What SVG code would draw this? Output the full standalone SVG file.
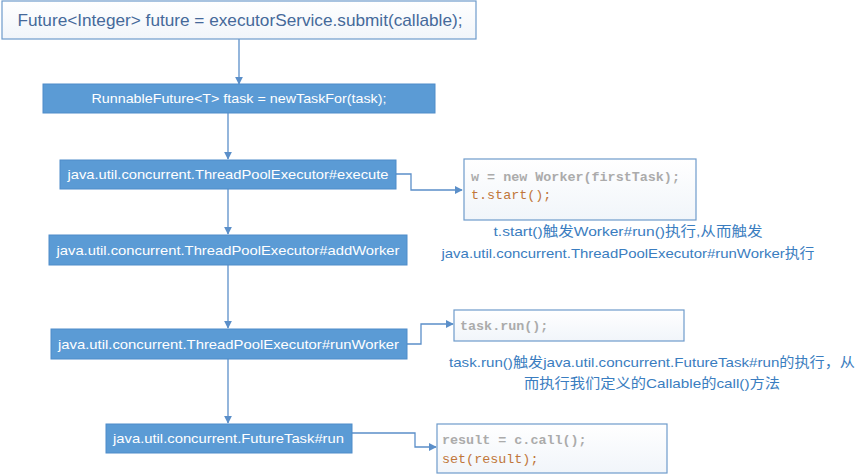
<svg xmlns="http://www.w3.org/2000/svg" width="865" height="474" viewBox="0 0 865 474">
<defs>
<linearGradient id="lg" x1="0" y1="0" x2="0" y2="1"><stop offset="0" stop-color="#FFFFFF"/><stop offset="1" stop-color="#F1F5FA"/></linearGradient>
<marker id="ah" viewBox="0 0 10 10" refX="9" refY="5" markerWidth="8" markerHeight="8" markerUnits="userSpaceOnUse" orient="auto"><path d="M0,0 L10,5 L0,10 z" fill="#5B8FC9"/></marker>
<style>
.blue{fill:#5B9BD5;stroke:#4F8CC9;stroke-width:1}
.lite{fill:url(#lg);stroke:#6E9BCB;stroke-width:1.2}
.bt{font-family:"Liberation Sans","Open Sans",sans-serif;font-size:13px;fill:#FFFFFF;text-anchor:middle}
.code{font-family:"Liberation Mono",monospace;font-size:13.4px;font-weight:bold}
.g{fill:#ABABAB}
.o{fill:#C0763A;font-weight:normal}
.cap{font-family:"Liberation Sans","Noto Sans CJK SC",sans-serif;font-size:13.5px;fill:#3A7DC0;text-anchor:middle}
.ln{fill:none;stroke:#5B8FC9;stroke-width:1.3}
</style>
</defs>
<rect width="865" height="474" fill="#FFFFFF"/>
<g id="connectors">
<path class="ln" d="M239,39 V84" marker-end="url(#ah)"/>
<path class="ln" d="M228,113 V159" marker-end="url(#ah)"/>
<path class="ln" d="M228,189 V234" marker-end="url(#ah)"/>
<path class="ln" d="M228,265 V328" marker-end="url(#ah)"/>
<path class="ln" d="M228,359 V423" marker-end="url(#ah)"/>
<path class="ln" d="M396,174 H411 V190 H462" marker-end="url(#ah)"/>
<path class="ln" d="M407,344 H421 V324 H453" marker-end="url(#ah)"/>
<path class="ln" d="M352,433 H415 V447 H436" marker-end="url(#ah)"/>
</g>
<g id="n1">
<rect class="lite" x="2" y="1" width="474" height="38"/>
<text x="240" y="26" font-family="Liberation Sans, sans-serif" font-size="17" fill="#45699A" text-anchor="middle" textLength="445" lengthAdjust="spacingAndGlyphs">Future&lt;Integer&gt; future = executorService.submit(callable);</text>
</g>
<g id="n2">
<rect class="blue" x="43" y="84" width="392" height="29"/>
<text class="bt" x="239" y="103" textLength="295" lengthAdjust="spacingAndGlyphs">RunnableFuture&lt;T&gt; ftask = newTaskFor(task);</text>
</g>
<g id="n3">
<rect class="blue" x="60" y="160" width="336" height="29"/>
<text class="bt" x="228" y="179" textLength="321" lengthAdjust="spacingAndGlyphs">java.util.concurrent.ThreadPoolExecutor#execute</text>
</g>
<g id="n4">
<rect class="blue" x="49" y="235" width="358" height="30"/>
<text class="bt" x="228" y="254.5" textLength="343" lengthAdjust="spacingAndGlyphs">java.util.concurrent.ThreadPoolExecutor#addWorker</text>
</g>
<g id="n5">
<rect class="blue" x="51" y="329" width="356" height="30"/>
<text class="bt" x="228.5" y="349" textLength="341" lengthAdjust="spacingAndGlyphs">java.util.concurrent.ThreadPoolExecutor#runWorker</text>
</g>
<g id="n6">
<rect class="blue" x="106" y="424" width="246" height="29"/>
<text class="bt" x="228.5" y="443" textLength="231" lengthAdjust="spacingAndGlyphs">java.util.concurrent.FutureTask#run</text>
</g>
<g id="codeA">
<rect class="lite" x="464" y="159" width="232" height="61"/>
<text class="code g" x="471" y="181">w = new Worker(firstTask);</text>
<text class="code o" x="471" y="199">t.start();</text>
</g>
<g id="capA">
<text class="cap" x="628" y="236" textLength="269" lengthAdjust="spacingAndGlyphs">t.start()触发Worker#run()执行,从而触发</text>
<text class="cap" x="628" y="258" textLength="373" lengthAdjust="spacingAndGlyphs">java.util.concurrent.ThreadPoolExecutor#runWorker执行</text>
</g>
<g id="codeB">
<rect class="lite" x="454" y="310" width="230" height="31"/>
<text class="code g" x="460" y="330">task.run();</text>
</g>
<g id="capB">
<text class="cap" x="652" y="367" textLength="406" lengthAdjust="spacingAndGlyphs">task.run()触发java.util.concurrent.FutureTask#run的执行，从</text>
<text class="cap" x="652" y="388" textLength="256" lengthAdjust="spacingAndGlyphs">而执行我们定义的Callable的call()方法</text>
</g>
<g id="codeC">
<rect class="lite" x="437" y="424" width="230" height="49"/>
<text class="code g" x="442" y="444">result = c.call();</text>
<text class="code o" x="442" y="463">set(result);</text>
</g>
</svg>
